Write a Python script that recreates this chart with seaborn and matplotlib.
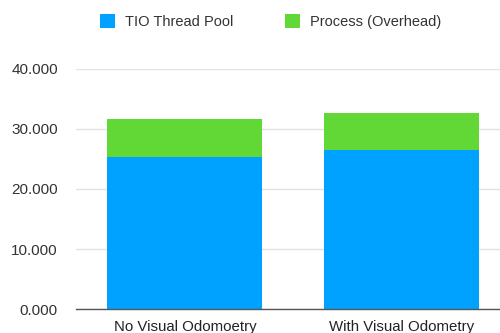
import matplotlib
matplotlib.use("Agg")
import matplotlib.pyplot as plt
from matplotlib.patches import Patch
from matplotlib.ticker import FuncFormatter
import seaborn as sns
import pandas as pd

categories = ["No Visual Odomoetry", "With Visual Odometry"]
thread_pool = [25.3, 26.5]
overhead = [6.3, 6.1]
series_names = ["TIO Thread Pool", "Process (Overhead)"]

BLUE = "#00A2FF"
GREEN = "#61D836"

sns.set_theme(style="white")
plt.rcParams["font.family"] = ["Liberation Sans", "DejaVu Sans"]

df = pd.DataFrame({
    "category": categories,
    "pool": thread_pool,
    "total": [a + b for a, b in zip(thread_pool, overhead)],
})

fig = plt.figure(figsize=(5.0, 3.33), dpi=100)
ax = fig.add_axes([0.152, 0.072, 0.848, 0.721])

# stacked bars: total first (overhead colour), thread-pool portion on top
sns.barplot(data=df, x="category", y="total", color=GREEN, width=0.716,
            saturation=1, ax=ax, zorder=2)
sns.barplot(data=df, x="category", y="pool", color=BLUE, width=0.716,
            saturation=1, ax=ax, zorder=3)
for p in ax.patches:
    p.set_edgecolor("none")

ax.set_ylim(0, 40)
ax.set_yticks([0, 10, 20, 30, 40])
ax.yaxis.set_major_formatter(FuncFormatter(lambda v, _: f"{v:.3f}"))
ax.set_xlim(-0.503, 1.455)
ax.set_xlabel("")
ax.set_ylabel("")

ax.grid(axis="y", color="#e2e2e2", linewidth=1.0, zorder=0)
ax.set_axisbelow(True)
for side in ["top", "right", "left"]:
    ax.spines[side].set_visible(False)
ax.spines["bottom"].set_color("#555555")
ax.spines["bottom"].set_linewidth(1.0)
ax.spines["bottom"].set_zorder(5)

ax.tick_params(axis="y", length=0, pad=13, labelsize=11, labelcolor="#333333")
ax.tick_params(axis="x", length=0, pad=8, labelsize=10.8, labelcolor="#222222")

handles = [Patch(facecolor=BLUE, edgecolor="none"),
           Patch(facecolor=GREEN, edgecolor="none")]
fig.legend(handles, series_names, loc="center", bbox_to_anchor=(0.541, 0.935),
           ncol=2, frameon=False, fontsize=10.5, handlelength=1.05, handleheight=1.05,
           handletextpad=0.7, columnspacing=3.5, labelcolor="#333333")

fig.savefig("out.png", dpi=100)
